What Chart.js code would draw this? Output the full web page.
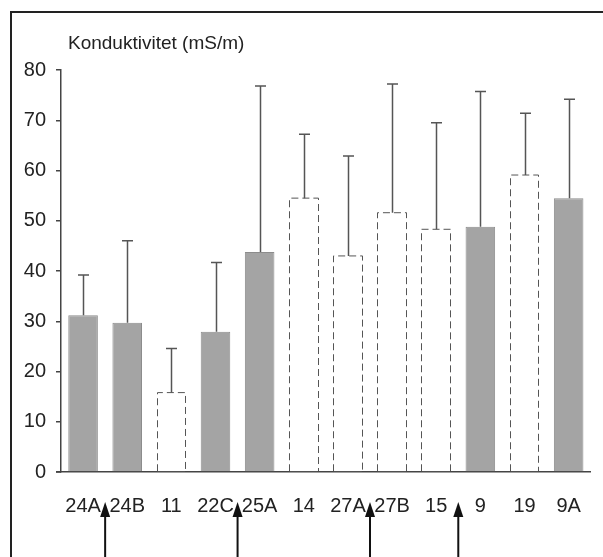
<!DOCTYPE html>
<html>
<head>
<meta charset="utf-8">
<title>Konduktivitet</title>
<script src="https://cdn.jsdelivr.net/npm/chart.js@4.4.0/dist/chart.umd.min.js"></script>
<style>
    body { margin: 0; background: #fff; }
    canvas { display: block; }
</style>
</head>
<body>
<canvas id="condChart" width="603" height="557"></canvas>
<script>
// station names, mean conductivity and standard deviation (mS/m)
const stations = ['24A', '24B', '11', '22C', '25A', '14', '27A', '27B', '15', '9', '19', '9A'];
const meanValues = [31.2, 29.7, 15.8, 27.9, 43.8, 54.5, 43.0, 51.6, 48.3, 48.8, 59.1, 54.5];
const sdValues = [8.0, 16.3, 8.8, 13.8, 33.0, 12.7, 19.9, 25.6, 21.2, 26.9, 12.3, 19.7];
// grey bars vs open bars
const shaded = [true, true, false, true, true, false, false, false, false, true, false, true];
const yTicks = [0, 10, 20, 30, 40, 50, 60, 70, 80];
// arrows sit between these pairs of stations
const arrowPairs = [[0, 1], [3, 4], [6, 7], [8, 9]];

const FONT = '"Liberation Sans", Arial, sans-serif';

const extras = {
    id: 'extras',
    afterDatasetsDraw(chart) {
        const ctx = chart.ctx;
        const yScale = chart.scales.y;
        const xScale = chart.scales.x;
        const bars = chart.getDatasetMeta(0).data;

        ctx.save();
        // zero line runs a little past the y axis
        ctx.strokeStyle = '#444';
        ctx.lineWidth = 1.5;
        ctx.beginPath();
        ctx.moveTo(56, yScale.bottom);
        ctx.lineTo(xScale.left, yScale.bottom);
        ctx.stroke();

        // dashed outline on the open bars
        ctx.strokeStyle = '#555';
        ctx.lineWidth = 1;
        ctx.setLineDash([7, 4]);
        bars.forEach((bar, i) => {
            if (shaded[i]) return;
            const l = Math.round(bar.x - bar.width / 2) + 0.5;
            const r = Math.round(bar.x + bar.width / 2) - 0.5;
            ctx.beginPath();
            ctx.moveTo(l, bar.base);
            ctx.lineTo(l, bar.y);
            ctx.lineTo(r, bar.y);
            ctx.lineTo(r, bar.base);
            ctx.stroke();
        });
        ctx.setLineDash([]);

        // upper error bars
        ctx.strokeStyle = '#555';
        ctx.lineWidth = 1.5;
        bars.forEach((bar, i) => {
            const top = yScale.getPixelForValue(meanValues[i] + sdValues[i]);
            const x = Math.round(bar.x) + 0.5;
            ctx.beginPath();
            ctx.moveTo(x, bar.y);
            ctx.lineTo(x, top);
            ctx.moveTo(x - 5.5, top);
            ctx.lineTo(x + 5.5, top);
            ctx.stroke();
        });

        // arrows under the axis labels
        ctx.fillStyle = '#111';
        ctx.strokeStyle = '#111';
        ctx.lineWidth = 2;
        arrowPairs.forEach(([a, b]) => {
            const x = (xScale.getPixelForValue(a) + xScale.getPixelForValue(b)) / 2;
            ctx.beginPath();
            ctx.moveTo(x, chart.height);
            ctx.lineTo(x, 512);
            ctx.stroke();
            ctx.beginPath();
            ctx.moveTo(x, 502);
            ctx.lineTo(x - 5, 517);
            ctx.lineTo(x + 5, 517);
            ctx.closePath();
            ctx.fill();
        });

        // axis title
        ctx.fillStyle = '#222';
        ctx.font = '19px ' + FONT;
        ctx.textBaseline = 'alphabetic';
        ctx.textAlign = 'left';
        ctx.fillText('Konduktivitet (mS/m)', 68, 49);

        // outer frame
        ctx.strokeStyle = '#222';
        ctx.lineWidth = 2;
        ctx.beginPath();
        ctx.moveTo(11, chart.height);
        ctx.lineTo(11, 12);
        ctx.lineTo(chart.width, 12);
        ctx.stroke();
        ctx.restore();
    }
};

new Chart(document.getElementById('condChart').getContext('2d'), {
    type: 'bar',
    data: {
        labels: stations,
        datasets: [{
            data: meanValues,
            backgroundColor: shaded.map(s => s ? '#a4a4a4' : '#ffffff'),
            borderColor: shaded.map(s => s ? '#8c8c8c' : 'rgba(0,0,0,0)'),
            borderWidth: 1,
            barPercentage: 0.67,
            categoryPercentage: 1
        }]
    },
    options: {
        responsive: false,
        animation: false,
        layout: { padding: { top: 70, right: 3, left: 0, bottom: 0 } },
        plugins: {
            legend: { display: false },
            tooltip: { enabled: false }
        },
        scales: {
            x: {
                grid: { display: false, drawTicks: false },
                border: { display: true, color: '#444', width: 1.5 },
                ticks: {
                    color: '#222',
                    font: { family: FONT, size: 20 },
                    padding: 22,
                    maxRotation: 0,
                    autoSkip: false
                },
                afterFit: s => { s.height = 85; }
            },
            y: {
                min: 0,
                max: 80,
                afterBuildTicks: s => { s.ticks = yTicks.map(v => ({ value: v })); },
                grid: { drawOnChartArea: false, tickLength: 5, color: '#444', lineWidth: 1.5 },
                border: { display: true, color: '#444', width: 1.5 },
                ticks: {
                    color: '#222',
                    font: { family: FONT, size: 20 },
                    padding: 10
                },
                afterFit: s => { s.width = 61; }
            }
        }
    },
    plugins: [extras]
});
</script>
</body>
</html>
